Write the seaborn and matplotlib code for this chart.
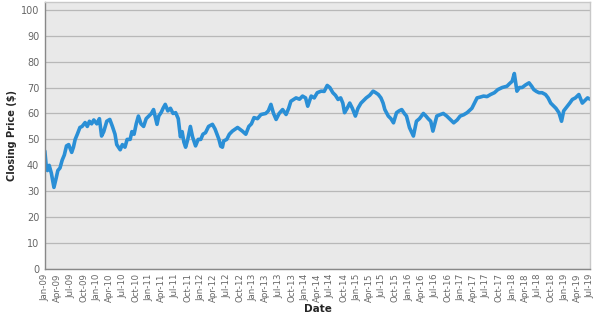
import numpy as np
import pandas as pd
import matplotlib
matplotlib.use("Agg")
import matplotlib.pyplot as plt
import matplotlib.dates as mdates
import seaborn as sns

# months elapsed since 1 Jan 2009
month_offsets = [
    0, 0.3, 0.6, 1.0, 1.5, 2.1, 2.6, 3.0, 3.5, 4.0, 4.5, 5.0, 5.5, 6.2, 6.6, 7.0, 7.5, 8.1, 8.6, 9.3,
    9.8, 10.3, 10.8, 11.3, 12.0, 12.6, 13.1, 13.6, 14.3, 15.0, 15.6, 16.2, 16.6, 17.4, 17.9, 18.5, 19.0,
    19.7, 20.1, 20.6, 21.1, 21.6, 22.2, 22.8, 23.4, 24.0, 24.6, 25.1, 25.9, 26.3, 26.9, 27.3, 27.8, 28.4,
    29.0, 29.6, 30.2, 30.8, 31.3, 31.7, 32.1, 32.5, 33.0, 33.6, 34.1, 34.8, 35.4, 36.0, 36.5, 37.1, 37.8,
    38.7, 39.3, 40.2, 40.6, 41.0, 41.3, 42.0, 42.6, 43.3, 44.5, 45.6, 46.4, 47.1, 47.7, 48.3, 49.1, 49.9,
    51.0, 51.6, 52.2, 52.8, 53.4, 54.1, 54.9, 55.7, 56.3, 56.8, 58.0, 58.8, 59.5, 60.2, 60.7, 61.5, 62.2,
    62.9, 63.8, 64.5, 65.2, 65.8, 66.5, 67.1, 67.7, 68.3, 68.8, 69.2, 69.8, 70.4, 71.0, 71.7, 72.3, 73.0,
    73.6, 74.2, 75.0, 75.8, 76.4, 77.0, 77.6, 78.1, 78.5, 79.3, 79.9, 80.5, 81.2, 81.8, 82.4, 83.0, 83.5,
    84.2, 85.1, 85.8, 86.5, 87.4, 88.0, 88.5, 89.1, 89.6, 90.5, 91.2, 92.0, 92.8, 93.6, 94.4, 95.2, 95.9,
    96.7, 97.5, 98.6, 99.2, 99.8, 100.5, 101.3, 102.1, 102.9, 103.8, 104.6, 105.6, 106.7, 107.3, 107.9,
    108.4, 108.7, 109.0, 109.6, 110.2, 111.0, 111.8, 112.4, 112.9, 113.5, 114.1, 114.8, 115.6, 116.2,
    116.8, 117.4, 118.0, 118.7, 119.3, 119.8, 120.5, 121.2, 121.8, 122.5, 123.3, 124.1, 124.7, 125.3, 126.0,
]

closing_prices = [
    45.5, 40, 38, 40, 37, 31.5, 35, 38, 39, 42, 44, 47.5, 48, 45, 47, 50, 52, 54.6, 55, 56.5,
    55, 57, 56, 57.5, 56, 58, 51.3, 53, 57, 57.7, 55, 52, 48, 46, 48, 47, 50,
    50, 53, 52, 56, 59, 56, 55, 58, 59, 60, 61.5, 55.8, 59, 60.5, 62, 63.5, 61,
    62, 60, 60.3, 58, 51, 53, 49, 47, 50, 55, 51, 47.5, 50, 50, 52, 52.6, 55,
    55.8, 54, 50, 47.4, 47, 49.4, 50, 52, 53.2, 54.6, 53.2, 52, 55, 56, 58.4, 58, 59.6,
    60, 61, 63.5, 60, 57.7, 60, 61.5, 59.6, 62, 64.7, 66, 65.5, 66.7, 66, 62.8, 66.7, 66,
    68, 68.6, 68.5, 70.8, 70, 68, 67, 65.4, 66, 64, 60.3, 62, 64, 62, 59, 62, 64,
    65, 66, 67, 68.6, 68, 67.3, 66, 64, 61.5, 59, 58, 56.4, 60.3, 61, 61.5, 60, 59,
    54.5, 51.3, 57, 58, 60, 59, 58, 57, 53.2, 59, 59.5, 60, 59, 57.7, 56.4, 57.5, 59,
    59.5, 60.3, 62, 64, 66, 66.3, 66.7, 66.5, 67.3, 68, 69.2, 70, 70.5, 71.5, 72.4,
    75.4, 72, 68.6, 70, 70, 71, 71.8, 70.5, 69.2, 68.5, 68, 68, 67.3, 66,
    64, 63, 62, 60.3, 57, 61, 62.5, 64, 65.4, 66, 67.3, 64, 65, 66, 65.4,
]

y_ticks = list(range(0, 101, 10))

start = pd.Timestamp("2009-01-01")
dates = [start + pd.Timedelta(days=m * 30.4375) for m in month_offsets]
df = pd.DataFrame({"Date": dates, "Closing Price ($)": closing_prices})

sns.set_style("whitegrid")
plt.rcParams["font.family"] = ["DejaVu Sans"]

fig = plt.figure(figsize=(6.06, 3.17), dpi=100)
ax = fig.add_axes([0.074, 0.151, 0.900, 0.843])
ax.set_facecolor("#E9E9E9")

sns.lineplot(data=df, x="Date", y="Closing Price ($)", ax=ax,
             color="#2A8FD6", linewidth=2.6)

ax.set_xlim(pd.Timestamp("2009-01-01"), pd.Timestamp("2019-07-01"))
ax.set_ylim(0, 103)
ax.set_yticks(y_ticks)
ax.xaxis.set_major_locator(mdates.MonthLocator(bymonth=[1, 4, 7, 10]))
ax.xaxis.set_major_formatter(mdates.DateFormatter("%b-%y"))
plt.setp(ax.get_xticklabels(), rotation=90)

ax.grid(axis="y", color="#B8B8B8", linewidth=0.9)
ax.grid(axis="x", visible=False)
ax.tick_params(axis="y", labelsize=7, colors="#666666", length=3, pad=1, color="#888888")
ax.tick_params(axis="x", labelsize=6.2, colors="#666666", length=2, pad=1, color="#888888")

for side in ["top", "right"]:
    ax.spines[side].set_color("#C8C8C8")
    ax.spines[side].set_linewidth(1.0)
for side in ["left", "bottom"]:
    ax.spines[side].set_color("#888888")
    ax.spines[side].set_linewidth(1.0)

ax.set_xlabel("Date", fontsize=7.5, fontweight="bold", labelpad=1)
ax.set_ylabel("Closing Price ($)", fontsize=7, fontweight="bold", labelpad=3)

fig.savefig("out.png", dpi=100)
